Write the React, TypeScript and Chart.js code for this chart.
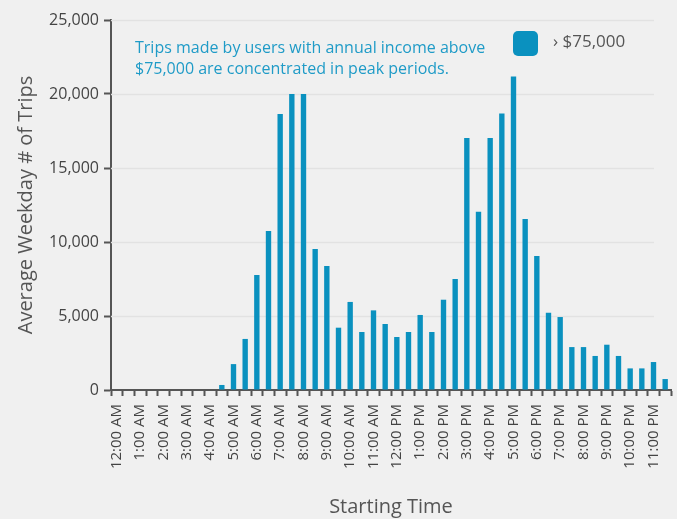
import React, { useEffect, useRef } from "react";
import { Chart, registerables } from "chart.js";

Chart.register(...registerables);

const categories: string[] = [
  "12:00 AM", "12:30 AM", "1:00 AM", "1:30 AM", "2:00 AM", "2:30 AM",
  "3:00 AM", "3:30 AM", "4:00 AM", "4:30 AM", "5:00 AM", "5:30 AM",
  "6:00 AM", "6:30 AM", "7:00 AM", "7:30 AM", "8:00 AM", "8:30 AM",
  "9:00 AM", "9:30 AM", "10:00 AM", "10:30 AM", "11:00 AM", "11:30 AM",
  "12:00 PM", "12:30 PM", "1:00 PM", "1:30 PM", "2:00 PM", "2:30 PM",
  "3:00 PM", "3:30 PM", "4:00 PM", "4:30 PM", "5:00 PM", "5:30 PM",
  "6:00 PM", "6:30 PM", "7:00 PM", "7:30 PM", "8:00 PM", "8:30 PM",
  "9:00 PM", "9:30 PM", "10:00 PM", "10:30 PM", "11:00 PM", "11:30 PM",
];

const tripsAbove75k: number[] = [
  0, 0, 0, 0, 0, 0,
  0, 0, 0, 340, 1750, 3450,
  7770, 10750, 18650, 20000, 20000, 9530,
  8380, 4210, 5950, 3920, 5380, 4460,
  3580, 3920, 5070, 3920, 6100, 7500,
  17030, 12050, 17030, 18690, 21190, 11550,
  9050, 5220, 4930, 2900, 2900, 2300,
  3060, 2300, 1460, 1460, 1890, 740,
];

const yTicks: number[] = [0, 5000, 10000, 15000, 20000, 25000];

const seriesLabel = "› $75,000";
const noteLines: string[] = [
  "Trips made by users with annual income above",
  "$75,000 are concentrated in peak periods.",
];
const yTitle = "Average Weekday # of Trips";
const xTitle = "Starting Time";

const FONT = "'Open Sans', 'Noto Sans', sans-serif";
const BAR = "#0a91bf";
const NOTE = "#1f9bc7";
const DARK = "#555555";

const overlayPlugin = {
  id: "overlay",
  beforeDatasetsDraw(chart: any) {
    const { ctx, chartArea, scales } = chart;
    const y = scales.y;
    ctx.save();
    ctx.strokeStyle = "#e2e2e2";
    ctx.lineWidth = 1.5;
    yTicks.forEach((v) => {
      if (v === 0) return;
      const py = Math.round(y.getPixelForValue(v)) + 0.5;
      ctx.beginPath();
      ctx.moveTo(chartArea.left, py);
      ctx.lineTo(chartArea.right - 17, py);
      ctx.stroke();
    });
    ctx.restore();
  },
  afterDraw(chart: any) {
    const { ctx } = chart;
    ctx.save();
    ctx.fillStyle = NOTE;
    ctx.font = `16px ${FONT}`;
    ctx.textAlign = "left";
    ctx.textBaseline = "middle";
    noteLines.forEach((t, i) => ctx.fillText(t, 135, 48 + i * 21));
    ctx.fillStyle = BAR;
    ctx.beginPath();
    (ctx as any).roundRect(513, 31, 25, 25, 5);
    ctx.fill();
    ctx.fillStyle = DARK;
    ctx.font = `17px ${FONT}`;
    ctx.fillText(seriesLabel, 553, 42);
    ctx.restore();
  },
};

export default function App() {
  const ref = useRef<HTMLCanvasElement | null>(null);

  useEffect(() => {
    document.body.style.margin = "0";
    document.body.style.background = "#f0f0f0";
    const canvas = ref.current!;
    const chart = new Chart(canvas, {
      type: "bar",
      data: {
        labels: categories,
        datasets: [
          {
            label: seriesLabel,
            data: tripsAbove75k,
            backgroundColor: BAR,
            barPercentage: 0.46,
            categoryPercentage: 1,
          },
        ],
      },
      options: {
        responsive: false,
        animation: false,
        layout: { padding: { top: 20, right: 6, left: 0, bottom: 0 } },
        plugins: {
          legend: { display: false },
          tooltip: { enabled: false },
        },
        scales: {
          x: {
            type: "category",
            offset: true,
            grid: {
              offset: true,
              drawOnChartArea: false,
              drawTicks: true,
              tickLength: 6,
              tickWidth: 2,
              tickColor: DARK,
            },
            border: { color: DARK, width: 2 },
            ticks: {
              autoSkip: false,
              maxRotation: 90,
              minRotation: 90,
              padding: 8,
              color: "#444444",
              font: { family: FONT, size: 15 },
              callback: (_v: any, i: number) => (i % 2 === 0 ? categories[i] : ""),
            },
            title: {
              display: true,
              text: xTitle,
              color: DARK,
              font: { family: FONT, size: 20 },
              padding: { top: 0, bottom: 0 },
            },
            afterFit: (s: any) => {
              s.height = 129;
              s.paddingLeft = 0;
              s.paddingRight = 0;
            },
          },
          y: {
            min: 0,
            max: 25000,
            grid: {
              drawOnChartArea: false,
              drawTicks: true,
              tickLength: 7,
              tickWidth: 2,
              tickColor: DARK,
            },
            border: { color: DARK, width: 2 },
            afterBuildTicks: (s: any) => {
              s.ticks = yTicks.map((v) => ({ value: v }));
            },
            ticks: {
              padding: 5,
              color: "#444444",
              font: { family: FONT, size: 16 },
            },
            title: {
              display: true,
              text: yTitle,
              color: DARK,
              font: { family: FONT, size: 20 },
              padding: { top: 14, bottom: 0 },
            },
            afterFit: (s: any) => {
              s.width = 111;
            },
          },
        },
      },
      plugins: [overlayPlugin],
    });
    return () => chart.destroy();
  }, []);

  return (
    <div style={{ width: 677, height: 519, background: "#f0f0f0" }}>
      <canvas ref={ref} width={677} height={519} />
    </div>
  );
}
